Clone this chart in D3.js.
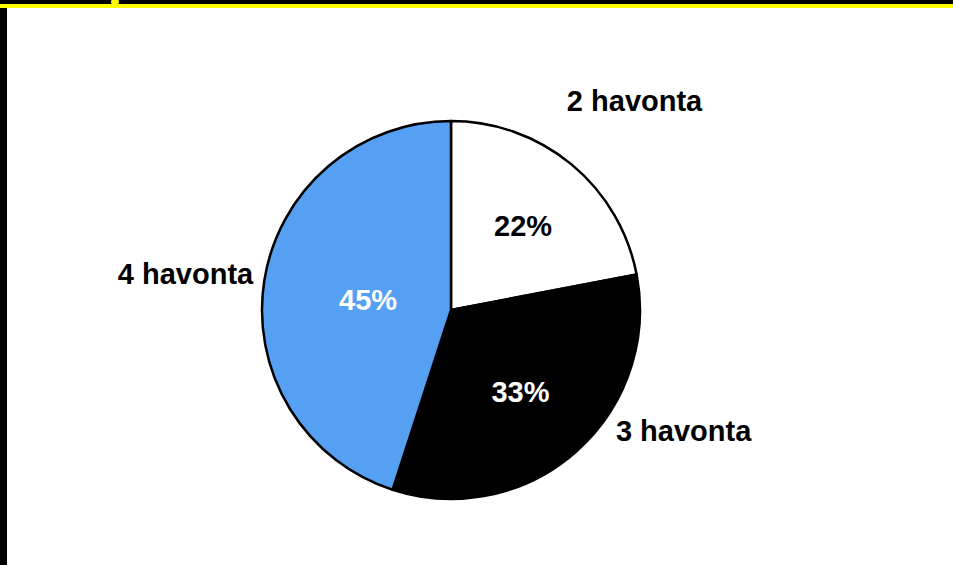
<!DOCTYPE html>
<html>
<head>
<meta charset="utf-8">
<script src="https://cdn.jsdelivr.net/npm/d3@7"></script>
<style>
  body { margin: 0; background: #fff; }
  svg { display: block; }
</style>
</head>
<body>
<script>
// data
var categories = ["2 havonta", "3 havonta", "4 havonta"];
var values = [22, 33, 45];
var colors = ["#ffffff", "#000000", "#55a0f3"];
var pctColors = ["#000000", "#ffffff", "#ffffff"];

var W = 953, H = 565;
var cx = 451, cy = 310, R = 189;

// where the labels sit (distance from center)
var pctRadius = [113, 105, 84];
var nameRadius = [278, 262, 268];
var nameAngleShift = [0.03, -0.37, -0.02];

var svg = d3.select("body").append("svg").attr("width", W).attr("height", H);

svg.append("rect").attr("width", W).attr("height", H).attr("fill", "#fff");

// frame bits at the edges of the screenshot
svg.append("rect").attr("x", 0).attr("y", 0).attr("width", W).attr("height", 4).attr("fill", "#000");
svg.append("rect").attr("x", 0).attr("y", 4).attr("width", W).attr("height", 4).attr("fill", "#ffff00");
svg.append("rect").attr("x", 0).attr("y", 8).attr("width", 7).attr("height", H - 8).attr("fill", "#000");
svg.append("ellipse").attr("cx", 115).attr("cy", 2).attr("rx", 4).attr("ry", 3).attr("fill", "#ffff00");

var pie = d3.pie().sort(null).value(function(d) { return d; });
var arcs = pie(values);
var arc = d3.arc().innerRadius(0).outerRadius(R);

var g = svg.append("g").attr("transform", "translate(" + cx + "," + cy + ")");

g.selectAll("path.slice")
  .data(arcs)
  .enter().append("path")
  .attr("class", "slice")
  .attr("d", arc)
  .attr("fill", function(d, i) { return colors[i]; })
  .attr("stroke", "#000")
  .attr("stroke-width", 2.5)
  .attr("stroke-linejoin", "round");

function mid(d) { return (d.startAngle + d.endAngle) / 2; }

g.selectAll("text.pct")
  .data(arcs)
  .enter().append("text")
  .attr("class", "pct")
  .attr("x", function(d, i) { return pctRadius[i] * Math.sin(mid(d)); })
  .attr("y", function(d, i) { return -pctRadius[i] * Math.cos(mid(d)); })
  .attr("dy", "0.45em")
  .attr("text-anchor", "middle")
  .attr("font-family", "Liberation Sans, Arial, sans-serif")
  .attr("font-weight", "bold")
  .attr("font-size", 29)
  .attr("fill", function(d, i) { return pctColors[i]; })
  .text(function(d) { return d.value + "%"; });

g.selectAll("text.name")
  .data(arcs)
  .enter().append("text")
  .attr("class", "name")
  .attr("x", function(d, i) { return nameRadius[i] * Math.sin(mid(d) + nameAngleShift[i]); })
  .attr("y", function(d, i) { return -nameRadius[i] * Math.cos(mid(d) + nameAngleShift[i]); })
  .attr("dy", "0.35em")
  .attr("text-anchor", "middle")
  .attr("font-family", "Liberation Sans, Arial, sans-serif")
  .attr("font-weight", "bold")
  .attr("font-size", 29)
  .attr("fill", "#000")
  .text(function(d, i) { return categories[i]; });
</script>
</body>
</html>
